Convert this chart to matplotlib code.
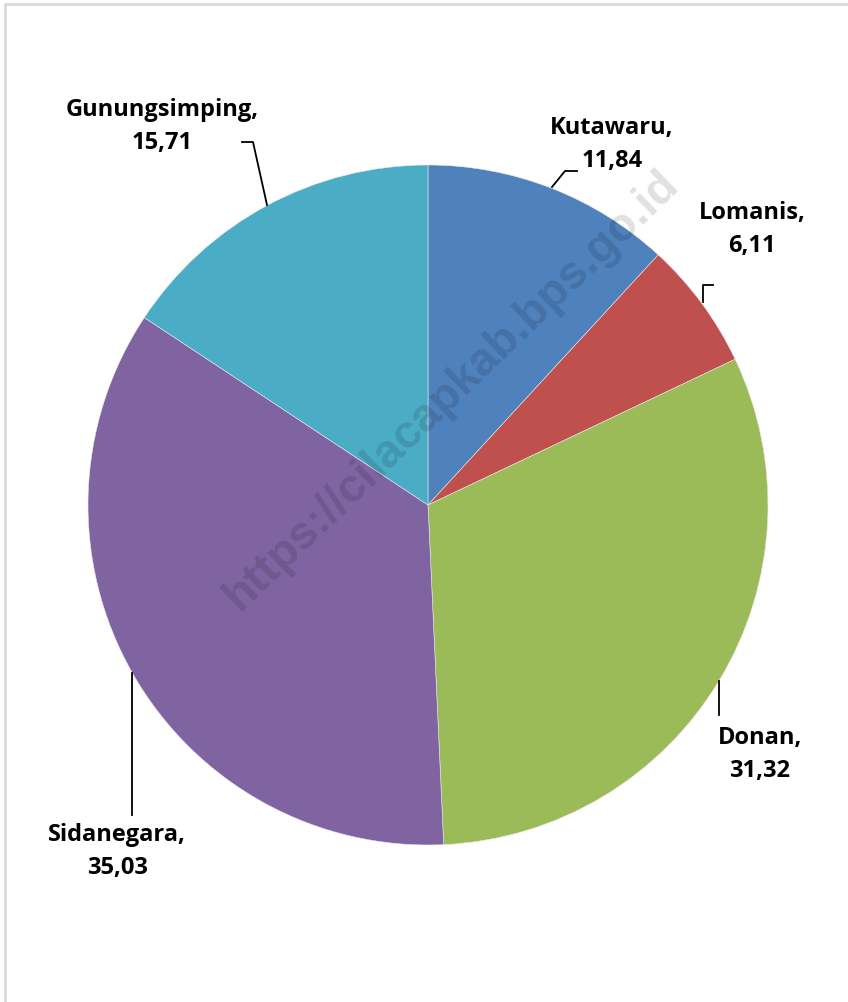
import matplotlib
matplotlib.use("Agg")
import matplotlib.pyplot as plt

# ---- data ----
categories = ["Kutawaru", "Lomanis", "Donan", "Sidanegara", "Gunungsimping"]
values = [11.84, 6.11, 31.32, 35.03, 15.71]
value_labels = ["11,84", "6,11", "31,32", "35,03", "15,71"]
colors = ["#4F81BD", "#C0504D", "#9BBB59", "#8064A2", "#4BACC6"]
watermark = "https://cilacapkab.bps.go.id"

W, H = 848, 1002
fig = plt.figure(figsize=(W / 100, H / 100), dpi=100)
ax = fig.add_axes([0, 0, 1, 1])

def Y(y):
    return H - y

cx, cy, r = 428, 505, 340
ax.pie(values, colors=colors, startangle=90, counterclock=False,
       center=(cx, Y(cy)), radius=r, frame=True,
       wedgeprops=dict(edgecolor="#e8e8e8", linewidth=0.4))
ax.set_xlim(0, W)
ax.set_ylim(0, H)
ax.set_aspect("equal")
ax.axis("off")

# border (top and left only, light gray)
ax.plot([4.5, 4.5, W], [Y(H), Y(4), Y(4)], color="#d9d9d9", lw=2, solid_capstyle="butt")

# label positions (image coords: center x, line1 y)
label_pos = {
    "Kutawaru": (612, 128),
    "Lomanis": (752, 213),
    "Donan": (760, 738),
    "Sidanegara": (117, 835),
    "Gunungsimping": (162, 110),
}
line_gap = 33
leaders = {
    "Kutawaru": [(552, 187), (565, 171), (577, 171)],
    "Lomanis": [(713, 285), (703, 285), (703, 302)],
    "Donan": [(719, 681), (719, 715)],
    "Sidanegara": [(132, 673), (132, 815)],
    "Gunungsimping": [(242, 142), (253, 142), (267, 205)],
}

font = dict(family=["Open Sans", "DejaVu Sans"], fontweight="bold", fontsize=17, color="black")
for cat, vl in zip(categories, value_labels):
    x, y = label_pos[cat]
    ax.text(x, Y(y), cat + ",", ha="center", va="center", zorder=5, **font)
    ax.text(x, Y(y + line_gap), vl, ha="center", va="center", zorder=5, **font)
    pts = leaders[cat]
    ax.plot([p[0] for p in pts], [Y(p[1]) for p in pts], color="black", lw=1.3, zorder=4)

# watermark
ax.text(452, Y(390), watermark, rotation=44, ha="center", va="center",
        family=["Liberation Sans", "DejaVu Sans"], fontweight="bold", fontsize=33.5,
        color="black", alpha=0.12, zorder=6)

fig.savefig("out.png", dpi=100)
